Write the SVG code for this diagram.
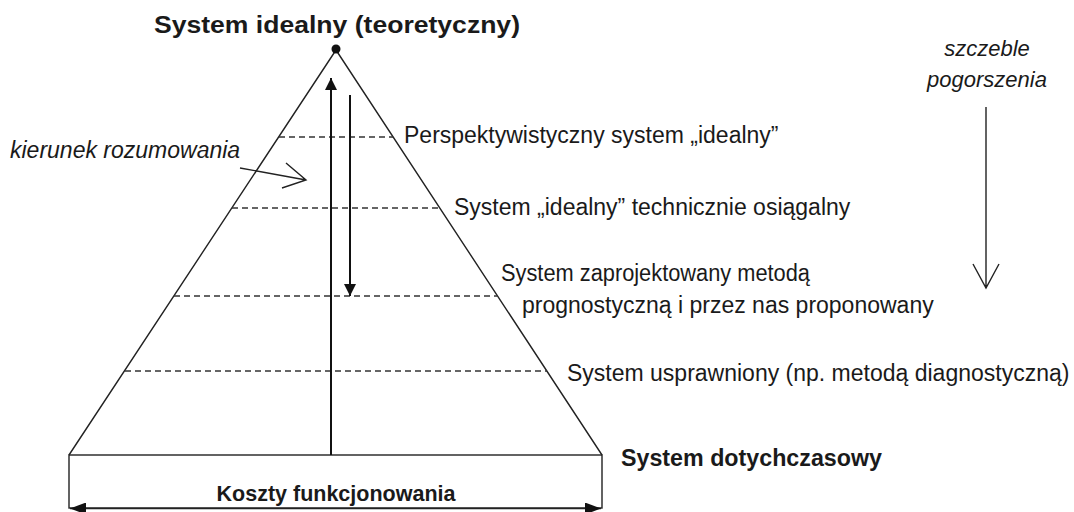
<svg xmlns="http://www.w3.org/2000/svg" width="1074" height="512" viewBox="0 0 1074 512">
<defs>
<style>
.t{font-family:"Liberation Sans",Arial,sans-serif;font-size:23px;fill:#1a1a1a}
.b{font-weight:bold;font-size:23px}
.i{font-style:italic}
.s{font-size:22px}
.ln{stroke:#222;stroke-width:1.4;fill:none}
.dash{stroke:#333;stroke-width:1.3;stroke-dasharray:6,4;fill:none}
.ar{stroke:#111;stroke-width:2;fill:none}
</style>
<marker id="fh" viewBox="0 0 12 12" refX="12" refY="6" markerWidth="12" markerHeight="12" markerUnits="userSpaceOnUse" orient="auto">
<path d="M0,0 L12,6 L0,12 Z" fill="#111"/>
</marker>
<marker id="fhb" viewBox="0 0 16 12" refX="16" refY="6" markerWidth="16" markerHeight="12" markerUnits="userSpaceOnUse" orient="auto-start-reverse">
<path d="M0,0 L16,6 L0,12 Z" fill="#111"/>
</marker>
</defs>
<rect width="1074" height="512" fill="#fff"/>
<g id="pyramid">
<path class="ln" d="M336,50 L69,455 M336,50 L602,455"/>
<circle cx="336" cy="49" r="4.5" fill="#111"/>
<rect class="ln" x="69" y="455" width="533" height="53"/>
</g>
<g id="levels">
<line class="dash" x1="279" y1="137" x2="393" y2="137"/>
<line class="dash" x1="232" y1="208" x2="440" y2="208"/>
<line class="dash" x1="174" y1="296" x2="497" y2="296"/>
<line class="dash" x1="125" y1="371" x2="547" y2="371"/>
</g>
<g id="connectors">
<line class="ar" x1="331" y1="455" x2="331" y2="78" marker-end="url(#fh)"/>
<line class="ar" x1="350" y1="95" x2="350" y2="296" marker-end="url(#fh)"/>
<line class="ln" x1="70" y1="508.5" x2="601" y2="508.5" marker-start="url(#fhb)" marker-end="url(#fhb)"/>
<path class="ln" d="M240,168 L306,180 M286,163 L306,180 L282,188"/>
<path class="ln" d="M986,107 L986,288 M973,264 L986,288 L999,264"/>
</g>
<g id="title"><text class="t b" x="154" y="33" textLength="366" lengthAdjust="spacingAndGlyphs">System idealny (teoretyczny)</text></g>
<g id="current"><text class="t b" x="621" y="466" textLength="261" lengthAdjust="spacingAndGlyphs">System dotychczasowy</text></g>
<g id="costs"><text class="t b" x="336" y="501" text-anchor="middle" style="font-size:21.5px">Koszty funkcjonowania</text></g>
<g id="reasoning"><text class="t i" x="10" y="158">kierunek rozumowania</text></g>
<g id="deterioration">
<text class="t i s" x="987" y="56" text-anchor="middle">szczeble</text>
<text class="t i s" x="987" y="87" text-anchor="middle">pogorszenia</text>
</g>
<g id="l1"><text class="t" x="404" y="143">Perspektywistyczny system „idealny”</text></g>
<g id="l2"><text class="t" x="454" y="215">System „idealny” technicznie osiągalny</text></g>
<g id="l3"><text class="t" x="501" y="281" textLength="309" lengthAdjust="spacingAndGlyphs">System zaprojektowany metodą</text>
<text class="t" x="522" y="313">prognostyczną i przez nas proponowany</text></g>
<g id="l4"><text class="t" x="567" y="381">System usprawniony (np. metodą diagnostyczną)</text></g>
</svg>
